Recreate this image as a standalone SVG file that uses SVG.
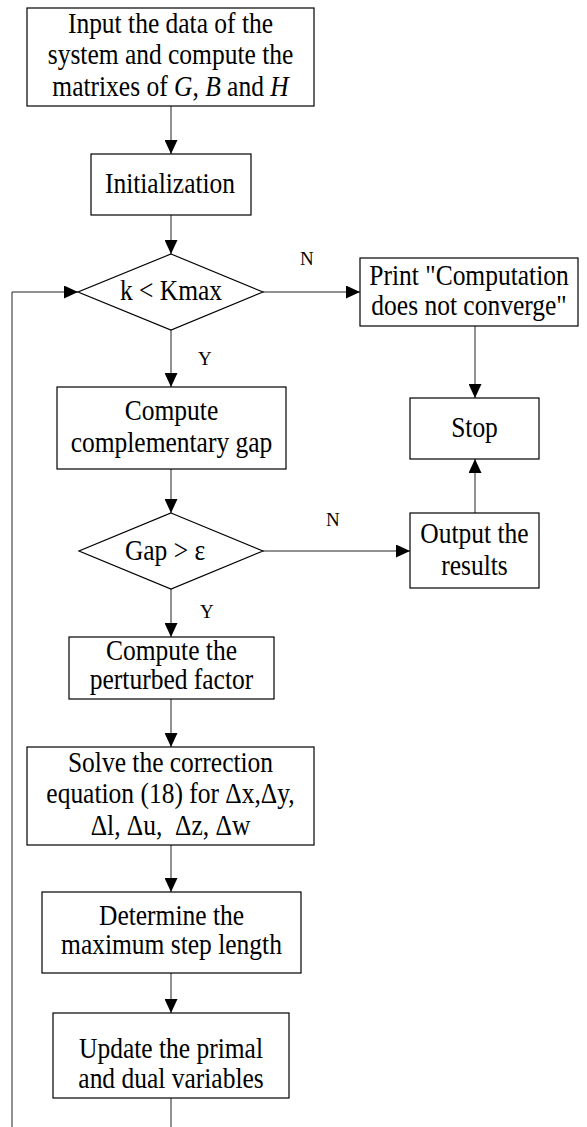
<svg xmlns="http://www.w3.org/2000/svg" width="587" height="1127" viewBox="0 0 587 1127">
<defs>
<marker id="ah" markerUnits="userSpaceOnUse" markerWidth="14" markerHeight="13" refX="14" refY="6.5" orient="auto">
<path d="M0,0 L14,6.5 L0,13 z" fill="#000"/>
</marker>
<style>
.box{fill:#fff;stroke:#000;stroke-width:1.2}
.t{font-family:"Liberation Serif","Times New Roman",serif;font-size:25.5px;fill:#000;text-anchor:middle}
.lbl{font-family:"Liberation Serif","Times New Roman",serif;font-size:19px;fill:#000}
.c{fill:none;stroke:#222;stroke-width:1}
.a{marker-end:url(#ah)}
</style>
</defs>
<rect width="587" height="1127" fill="#fff"/>
<g id="connectors">
<line class="c a" x1="171" y1="106" x2="171" y2="154"/>
<line class="c a" x1="171" y1="215" x2="171" y2="254"/>
<line class="c a" x1="171" y1="330" x2="171" y2="387"/>
<line class="c a" x1="171" y1="469" x2="171" y2="513"/>
<line class="c a" x1="171" y1="589" x2="171" y2="637"/>
<line class="c a" x1="171" y1="699" x2="171" y2="747"/>
<line class="c a" x1="171" y1="845" x2="171" y2="892"/>
<line class="c a" x1="171" y1="973" x2="171" y2="1013"/>
<line class="c" x1="171" y1="1098" x2="171" y2="1127"/>
<polyline class="c a" points="12,1127 12,292 78,292"/>
<line class="c a" x1="263" y1="292" x2="360" y2="292"/>
<line class="c a" x1="475" y1="326" x2="475" y2="398"/>
<line class="c a" x1="263" y1="551" x2="410" y2="551"/>
<line class="c a" x1="475" y1="513" x2="475" y2="459"/>
<text class="lbl" x="198" y="365">Y</text>
<text class="lbl" x="200" y="618">Y</text>
<text class="lbl" x="300" y="265">N</text>
<text class="lbl" x="326" y="526">N</text>
</g>
<g id="input">
<rect class="box" x="27" y="8" width="287" height="98"/>
<text class="t" transform="translate(170.5,33) scale(1,1.13)">Input the data of the</text>
<text class="t" transform="translate(170.5,64) scale(1,1.13)">system and compute the</text>
<text class="t" transform="translate(170.5,96) scale(1,1.13)">matrixes of <tspan font-style="italic">G</tspan>, <tspan font-style="italic">B</tspan> and <tspan font-style="italic">H</tspan></text>
</g>
<g id="init">
<rect class="box" x="91" y="154" width="160" height="61"/>
<text class="t" transform="translate(170,193) scale(1,1.13)">Initialization</text>
</g>
<g id="kmax">
<polygon class="box" points="171,254 263,292 171,330 78,292"/>
<text class="t" transform="translate(171,300) scale(1,1.13)">k &lt; Kmax</text>
</g>
<g id="print">
<rect class="box" x="360" y="258" width="218" height="68"/>
<text class="t" transform="translate(469,285) scale(1,1.13)">Print "Computation</text>
<text class="t" transform="translate(469,315) scale(1,1.13)">does not converge"</text>
</g>
<g id="stop">
<rect class="box" x="410" y="398" width="129" height="61"/>
<text class="t" transform="translate(474.5,437) scale(1,1.13)">Stop</text>
</g>
<g id="gapcomp">
<rect class="box" x="57" y="387" width="229" height="82"/>
<text class="t" transform="translate(171.5,420) scale(1,1.13)">Compute</text>
<text class="t" transform="translate(171.5,452) scale(1,1.13)">complementary gap</text>
</g>
<g id="gapcheck">
<polygon class="box" points="171,513 263,551 171,589 79,551"/>
<text class="t" transform="translate(165,560) scale(1,1.13)">Gap &gt; ε</text>
</g>
<g id="output">
<rect class="box" x="410" y="513" width="129" height="75"/>
<text class="t" transform="translate(474.5,543) scale(1,1.13)">Output the</text>
<text class="t" transform="translate(474.5,575) scale(1,1.13)">results</text>
</g>
<g id="perturb">
<rect class="box" x="69" y="637" width="205" height="62"/>
<text class="t" transform="translate(171.5,660) scale(1,1.13)">Compute the</text>
<text class="t" transform="translate(171.5,689) scale(1,1.13)">perturbed factor</text>
</g>
<g id="solve">
<rect class="box" x="27" y="747" width="287" height="98"/>
<text class="t" transform="translate(170.5,772) scale(1,1.13)">Solve the correction</text>
<text class="t" transform="translate(170.5,803) scale(1,1.13)">equation (18) for Δx,Δy,</text>
<text class="t" transform="translate(170.5,835) scale(1,1.13)" xml:space="preserve">Δl, Δu,  Δz, Δw</text>
</g>
<g id="steplen">
<rect class="box" x="42" y="892" width="259" height="81"/>
<text class="t" transform="translate(171.5,925) scale(1,1.13)">Determine the</text>
<text class="t" transform="translate(171.5,954) scale(1,1.13)">maximum step length</text>
</g>
<g id="update">
<rect class="box" x="53" y="1013" width="236" height="85"/>
<text class="t" transform="translate(171,1058) scale(1,1.13)">Update the primal</text>
<text class="t" transform="translate(171,1088) scale(1,1.13)">and dual variables</text>
</g>
</svg>
